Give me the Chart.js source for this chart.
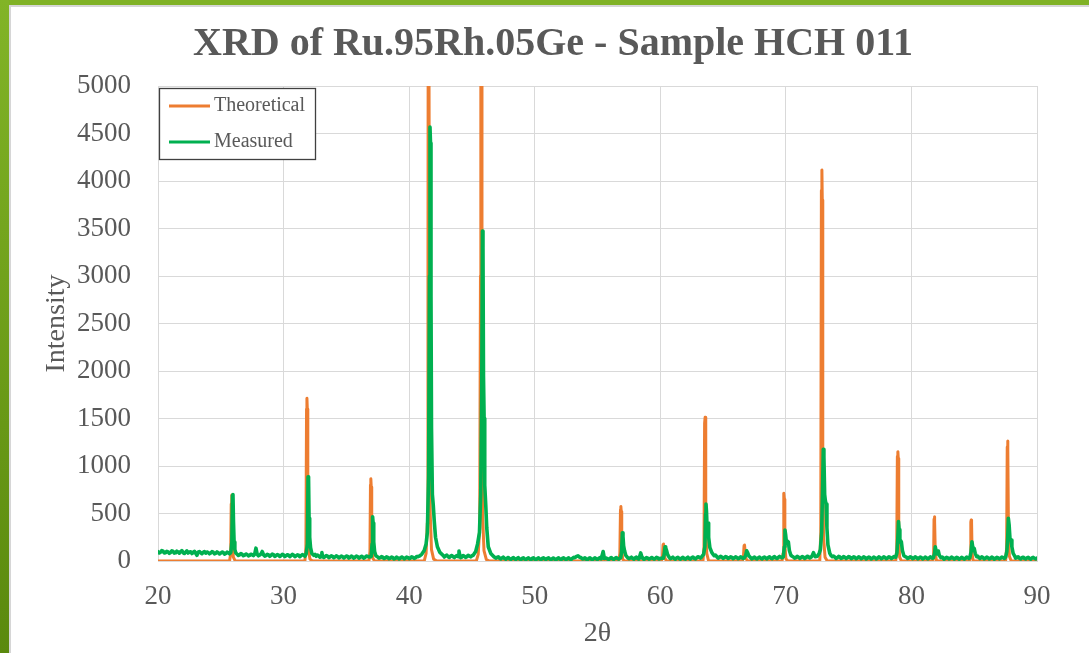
<!DOCTYPE html>
<html>
<head>
<meta charset="utf-8">
<script src="https://cdn.jsdelivr.net/npm/chart.js@4.4.1/dist/chart.umd.min.js"></script>
<style>
  html, body { margin: 0; padding: 0; background: #ffffff; }
  body { width: 1089px; height: 653px; position: relative; overflow: hidden; }
  #topBar { position: absolute; left: 0; top: 0; width: 1089px; height: 5px; background: #80b226; }
  #topLine { position: absolute; left: 9px; top: 5px; width: 1080px; height: 2px; background: #d6d6d6; }
  #leftBar { position: absolute; left: 0; top: 0; width: 9px; height: 653px; background: linear-gradient(#82b427, #5a890d); }
  #leftLine { position: absolute; left: 9px; top: 5px; width: 2px; height: 648px; background: #d6d6d6; }
  #chart { position: absolute; left: 0; top: 0; }
</style>
</head>
<body>
<div id="topBar"></div>
<div id="topLine"></div>
<div id="leftBar"></div>
<div id="leftLine"></div>
<canvas id="chart" width="1089" height="653"></canvas>
<script>
// XRD pattern, values: [2theta, intensity]

const chartTitle = 'XRD of Ru.95Rh.05Ge - Sample HCH 011';
const seriesNames = ['Theoretical', 'Measured'];
const xTicks = [20, 30, 40, 50, 60, 70, 80, 90];
const yTicks = [0, 500, 1000, 1500, 2000, 2500, 3000, 3500, 4000, 4500, 5000];

const theoretical = [
  [20, 0], [25.7, 0], [25.79, 80], [25.83, 600], [25.86, 695], [25.89, 640], [25.93, 200], [26.0, 40], [26.15, 0],
  [31.7, 0], [31.78, 150], [31.83, 1600], [31.86, 1712], [31.89, 1600], [31.93, 500], [31.98, 120], [32.1, 20], [32.3, 0],
  [36.8, 0], [36.88, 100], [36.92, 800], [36.95, 865], [36.98, 780], [37.02, 200], [37.1, 30], [37.25, 0],
  [41.2, 0], [41.35, 80], [41.45, 400], [41.5, 3000], [41.53, 8000], [41.58, 8000], [41.62, 3000], [41.68, 500], [41.78, 120], [41.95, 20], [42.2, 0],
  [45.35, 0], [45.5, 70], [45.62, 350], [45.68, 3000], [45.71, 8000], [45.76, 8000], [45.8, 3000], [45.86, 450], [45.96, 110], [46.15, 15], [46.4, 0],
  [56.7, 0], [56.78, 80], [56.83, 540], [56.86, 575], [56.89, 520], [56.93, 150], [57.0, 20], [57.15, 0],
  [60.1, 0], [60.18, 60], [60.22, 170], [60.26, 178], [60.3, 120], [60.36, 30], [60.5, 0],
  [63.4, 0], [63.48, 150], [63.53, 1450], [63.57, 1512], [63.6, 1400], [63.64, 400], [63.7, 80], [63.85, 0],
  [66.55, 0], [66.63, 60], [66.67, 160], [66.71, 168], [66.75, 110], [66.82, 25], [66.95, 0],
  [69.7, 0], [69.78, 80], [69.82, 680], [69.85, 712], [69.88, 650], [69.92, 180], [70.0, 25], [70.15, 0],
  [72.7, 0], [72.78, 300], [72.83, 3900], [72.87, 4116], [72.9, 3800], [72.94, 1100], [73.0, 250], [73.12, 40], [73.3, 0],
  [78.75, 0], [78.83, 120], [78.88, 1100], [78.92, 1151], [78.95, 1080], [78.99, 250], [79.06, 40], [79.2, 0],
  [81.7, 0], [81.77, 60], [81.8, 440], [81.83, 465], [81.86, 420], [81.9, 90], [81.98, 10], [82.1, 0],
  [84.62, 0], [84.7, 50], [84.73, 410], [84.76, 432], [84.79, 400], [84.83, 80], [84.92, 0],
  [87.5, 0], [87.58, 140], [87.63, 1200], [87.66, 1262], [87.69, 1180], [87.73, 280], [87.8, 50], [87.95, 0],
  [90, 0]
];

const measured = [
  [20.0, 98], [20.1, 84], [20.2, 92], [20.3, 110], [20.4, 104], [20.5, 85], [20.6, 88], [20.7, 102], [20.8, 96], [20.9, 80],
  [21.0, 90], [21.1, 108], [21.2, 101], [21.3, 83], [21.4, 86], [21.5, 104], [21.6, 95], [21.7, 82], [21.8, 99], [21.9, 110],
  [22.0, 88], [22.1, 79], [22.2, 94], [22.3, 106], [22.4, 84], [22.5, 92], [22.6, 97], [22.7, 78], [22.8, 90], [22.9, 102],
  [23.0, 81], [23.1, 60], [23.2, 93], [23.3, 100], [23.4, 86], [23.5, 77], [23.6, 91], [23.7, 99], [23.8, 82], [23.9, 95],
  [24.0, 89], [24.1, 76], [24.2, 84], [24.3, 98], [24.4, 92], [24.5, 75], [24.6, 80], [24.7, 96], [24.8, 87], [24.9, 74],
  [25.0, 83], [25.1, 94], [25.2, 90], [25.3, 72], [25.4, 79], [25.5, 93], [25.6, 86], [25.7, 76],
  [25.8, 90], [25.88, 200], [25.93, 690], [25.97, 700], [26.01, 420], [26.06, 200], [26.12, 120], [26.2, 85],
  [26.3, 72], [26.4, 58], [26.5, 65], [26.6, 78], [26.7, 70], [26.8, 55], [26.9, 62], [27.0, 74], [27.1, 68], [27.2, 54],
  [27.3, 60], [27.4, 71], [27.5, 66], [27.6, 56], [27.7, 72], [27.8, 135], [27.9, 70], [28.0, 55],
  [28.1, 63], [28.2, 74], [28.3, 100], [28.4, 66], [28.5, 52], [28.6, 58], [28.7, 70], [28.8, 64], [28.9, 50], [29.0, 60],
  [29.1, 72], [29.2, 67], [29.3, 49], [29.4, 56], [29.5, 68], [29.6, 62], [29.7, 48], [29.8, 58], [29.9, 70],
  [30.0, 64], [30.1, 47], [30.2, 55], [30.3, 66], [30.4, 61], [30.5, 46], [30.6, 57], [30.7, 69], [30.8, 63], [30.9, 47],
  [31.0, 54], [31.1, 65], [31.2, 60], [31.3, 45], [31.4, 56], [31.5, 67], [31.6, 62], [31.7, 50],
  [31.8, 75], [31.9, 180], [31.95, 887], [31.99, 860], [32.03, 450], [32.08, 250], [32.15, 140], [32.25, 80],
  [32.4, 60], [32.5, 70], [32.6, 50], [32.7, 62], [32.8, 55], [32.9, 40], [33.0, 47], [33.05, 88], [33.1, 52], [33.2, 38],
  [33.3, 46], [33.4, 58], [33.5, 51], [33.6, 36], [33.7, 43], [33.8, 55], [33.9, 49], [34.0, 35],
  [34.1, 42], [34.2, 54], [34.3, 47], [34.4, 33], [34.5, 40], [34.6, 52], [34.7, 46], [34.8, 32], [34.9, 41], [35.0, 53],
  [35.1, 48], [35.2, 31], [35.3, 39], [35.4, 51], [35.5, 44], [35.6, 30], [35.7, 40], [35.8, 52], [35.9, 46], [36.0, 31],
  [36.1, 38], [36.2, 50], [36.3, 44], [36.4, 30], [36.5, 40], [36.6, 53], [36.7, 47], [36.85, 42],
  [36.98, 50], [37.05, 180], [37.09, 466], [37.13, 400], [37.18, 200], [37.25, 100], [37.35, 55],
  [37.5, 42], [37.6, 30], [37.7, 35], [37.8, 46], [37.9, 40], [38.0, 26], [38.1, 32], [38.2, 44], [38.3, 38], [38.4, 24],
  [38.5, 30], [38.6, 42], [38.7, 35], [38.8, 22], [38.9, 28], [39.0, 40], [39.1, 34], [39.2, 22], [39.3, 30], [39.4, 42],
  [39.5, 36], [39.6, 23], [39.7, 29], [39.8, 41], [39.9, 35], [40.0, 24], [40.1, 31], [40.2, 44], [40.3, 38], [40.4, 27],
  [40.5, 33], [40.6, 48], [40.7, 45], [40.85, 55],
  [41.0, 70], [41.2, 110], [41.35, 180], [41.45, 300], [41.55, 900], [41.62, 3000], [41.66, 4568], [41.7, 4400],
  [41.74, 2800], [41.78, 1400], [41.85, 700], [41.92, 590], [42.0, 420], [42.1, 250], [42.25, 150], [42.45, 90], [42.7, 60],
  [42.8, 42], [42.9, 55], [43.0, 62], [43.1, 46], [43.2, 38], [43.3, 52], [43.4, 58], [43.5, 44], [43.6, 36], [43.7, 50],
  [43.8, 57], [43.9, 45], [43.97, 105], [44.05, 48], [44.1, 36], [44.2, 42], [44.3, 58], [44.4, 50], [44.5, 38], [44.6, 45],
  [44.7, 60], [44.8, 52], [44.9, 44], [45.0, 55],
  [45.1, 60], [45.3, 100], [45.45, 180], [45.6, 300], [45.7, 700], [45.78, 1800], [45.84, 3474], [45.88, 3300],
  [45.92, 1950], [45.97, 1500], [46.02, 800], [46.1, 590], [46.18, 350], [46.3, 150], [46.5, 80], [46.75, 45],
  [46.9, 30], [47.0, 38], [47.1, 44], [47.2, 30], [47.3, 22], [47.4, 34], [47.5, 40], [47.6, 26], [47.7, 18], [47.8, 31],
  [47.9, 37], [48.0, 24], [48.1, 16], [48.2, 29], [48.3, 36], [48.4, 23], [48.5, 15], [48.6, 28], [48.7, 35], [48.8, 22],
  [48.9, 14], [49.0, 27], [49.1, 34], [49.2, 21], [49.3, 14], [49.4, 26], [49.5, 33], [49.6, 22], [49.7, 13], [49.8, 27],
  [49.9, 34], [50.0, 20], [50.1, 13], [50.2, 26], [50.3, 33], [50.4, 21], [50.5, 14], [50.6, 27], [50.7, 34], [50.8, 22],
  [50.9, 15], [51.0, 28], [51.1, 34], [51.2, 21], [51.3, 13], [51.4, 26], [51.5, 32], [51.6, 20], [51.7, 13], [51.8, 25],
  [51.9, 33], [52.0, 21], [52.1, 14], [52.2, 27], [52.3, 34], [52.4, 22], [52.5, 15], [52.6, 26], [52.7, 33], [52.8, 21],
  [52.9, 16], [53.0, 28], [53.1, 38], [53.2, 35], [53.3, 45], [53.45, 55], [53.55, 42], [53.7, 34], [53.8, 22], [53.9, 25],
  [54.0, 33], [54.1, 20], [54.2, 14], [54.3, 27], [54.4, 34], [54.5, 21], [54.6, 15], [54.7, 26], [54.8, 33], [54.9, 22],
  [55.0, 16], [55.1, 28], [55.2, 35], [55.3, 23], [55.45, 100], [55.55, 26], [55.65, 34], [55.8, 22], [55.9, 16], [56.0, 28],
  [56.1, 36], [56.2, 23], [56.3, 17], [56.4, 29], [56.5, 37], [56.6, 25], [56.7, 20],
  [56.85, 35], [56.92, 100], [56.98, 298], [57.03, 260], [57.08, 160], [57.15, 110], [57.25, 60], [57.4, 35],
  [57.5, 24], [57.6, 32], [57.7, 40], [57.8, 27], [57.9, 20], [58.0, 33], [58.1, 40], [58.2, 26], [58.3, 20], [58.44, 85],
  [58.55, 36], [58.6, 28], [58.7, 18], [58.8, 24], [58.9, 36], [59.0, 30], [59.1, 19], [59.2, 25], [59.3, 37], [59.4, 31],
  [59.5, 20], [59.6, 26], [59.7, 38], [59.8, 32], [59.9, 21], [60.0, 27], [60.15, 30],
  [60.25, 30], [60.32, 80], [60.38, 150], [60.43, 140], [60.5, 110], [60.58, 70], [60.7, 40],
  [60.8, 24], [60.9, 32], [61.0, 40], [61.1, 27], [61.2, 19], [61.3, 33], [61.4, 39], [61.5, 26], [61.6, 18], [61.7, 31],
  [61.8, 38], [61.9, 25], [62.0, 19], [62.1, 32], [62.2, 40], [62.3, 27], [62.4, 20], [62.5, 34], [62.6, 42], [62.7, 28],
  [62.8, 22], [62.9, 35], [63.0, 44], [63.1, 40], [63.2, 30],
  [63.3, 45], [63.45, 70], [63.55, 150], [63.61, 500], [63.64, 600], [63.68, 520], [63.74, 300], [63.8, 400], [63.85, 250],
  [63.95, 140], [64.1, 90], [64.2, 70], [64.3, 55],
  [64.4, 62], [64.5, 45], [64.6, 30], [64.7, 38], [64.8, 50], [64.9, 42], [65.0, 28], [65.1, 35], [65.2, 47], [65.3, 40],
  [65.4, 26], [65.5, 33], [65.6, 45], [65.7, 38], [65.8, 25], [65.9, 32], [66.0, 44], [66.1, 37], [66.2, 24], [66.3, 31],
  [66.4, 43], [66.5, 36], [66.6, 26],
  [66.7, 35], [66.8, 60], [66.88, 108], [66.95, 90], [67.05, 55], [67.2, 35],
  [67.3, 22], [67.4, 33], [67.5, 40], [67.6, 28], [67.7, 21], [67.8, 34], [67.9, 41], [68.0, 29], [68.1, 22], [68.2, 35],
  [68.3, 42], [68.4, 30], [68.5, 23], [68.6, 36], [68.7, 44], [68.8, 31], [68.9, 24], [69.0, 38], [69.1, 46], [69.2, 32],
  [69.3, 26], [69.4, 37], [69.5, 48], [69.6, 40], [69.7, 34],
  [69.8, 45], [69.88, 150], [69.93, 326], [69.98, 280], [70.05, 190], [70.12, 210], [70.2, 200], [70.28, 110], [70.4, 60],
  [70.5, 50], [70.6, 42], [70.7, 30], [70.8, 36], [70.9, 48], [71.0, 41], [71.1, 28], [71.2, 35], [71.3, 47], [71.4, 40],
  [71.5, 27], [71.6, 34], [71.7, 50], [71.8, 45], [71.9, 32], [72.0, 40], [72.1, 55], [72.2, 88], [72.3, 52], [72.35, 45],
  [72.5, 50], [72.65, 80], [72.75, 120], [72.85, 300], [72.93, 800], [72.98, 1176], [73.03, 1100], [73.09, 700],
  [73.14, 640], [73.2, 600], [73.27, 350], [73.35, 170], [73.5, 80], [73.6, 58], [73.7, 45],
  [73.8, 52], [73.9, 40], [74.0, 28], [74.1, 35], [74.2, 48], [74.3, 42], [74.4, 27], [74.5, 33], [74.6, 46], [74.7, 39],
  [74.8, 26], [74.9, 34], [75.0, 47], [75.1, 40], [75.2, 25], [75.3, 33], [75.4, 45], [75.5, 38], [75.6, 24], [75.7, 32],
  [75.8, 44], [75.9, 37], [76.0, 23], [76.1, 31], [76.2, 43], [76.3, 36], [76.4, 22], [76.5, 30], [76.6, 42], [76.7, 35],
  [76.8, 21], [76.9, 29], [77.0, 41], [77.1, 34], [77.2, 22], [77.3, 30], [77.4, 43], [77.5, 36], [77.6, 23], [77.7, 31],
  [77.8, 44], [77.9, 37], [78.0, 24], [78.1, 32], [78.2, 45], [78.3, 38], [78.4, 26], [78.5, 35], [78.6, 46],
  [78.75, 40], [78.85, 90], [78.92, 250], [78.97, 414], [79.02, 330], [79.08, 200], [79.14, 214], [79.2, 200], [79.28, 110], [79.4, 55],
  [79.5, 46], [79.6, 40], [79.7, 27], [79.8, 33], [79.9, 45], [80.0, 38], [80.1, 25], [80.2, 31], [80.3, 43], [80.4, 36],
  [80.5, 23], [80.6, 30], [80.7, 42], [80.8, 35], [80.9, 22], [81.0, 29], [81.1, 41], [81.2, 34], [81.3, 23], [81.4, 30],
  [81.5, 43], [81.6, 36], [81.68, 28],
  [81.75, 35], [81.84, 80], [81.9, 150], [81.96, 110], [82.05, 75], [82.14, 105], [82.22, 60], [82.35, 35],
  [82.45, 40], [82.5, 32], [82.6, 20], [82.7, 27], [82.8, 39], [82.9, 33], [83.0, 21], [83.1, 28], [83.2, 40], [83.3, 34],
  [83.4, 20], [83.5, 27], [83.6, 39], [83.7, 32], [83.8, 19], [83.9, 26], [84.0, 38], [84.1, 31], [84.2, 20], [84.3, 28],
  [84.4, 40], [84.5, 33], [84.58, 26],
  [84.65, 35], [84.74, 90], [84.82, 203], [84.88, 150], [84.95, 110], [85.0, 133], [85.08, 80], [85.2, 45],
  [85.3, 50], [85.35, 38], [85.45, 26], [85.5, 31], [85.6, 43], [85.7, 36], [85.8, 22], [85.9, 29], [86.0, 41], [86.1, 34],
  [86.2, 21], [86.3, 28], [86.4, 40], [86.5, 33], [86.6, 20], [86.7, 27], [86.8, 39], [86.9, 32], [87.0, 22], [87.1, 29],
  [87.2, 42], [87.3, 35], [87.4, 28],
  [87.5, 40], [87.6, 100], [87.67, 250], [87.72, 449], [87.78, 380], [87.85, 230], [87.93, 221], [88.0, 150], [88.1, 80], [88.25, 45],
  [88.3, 30], [88.4, 36], [88.5, 44], [88.6, 30], [88.7, 22], [88.8, 35], [88.9, 40], [89.0, 28], [89.1, 21], [89.2, 33],
  [89.3, 39], [89.4, 27], [89.5, 20], [89.6, 32], [89.7, 38], [89.8, 28], [89.9, 22], [90.0, 31]
];

const serif = '"Liberation Serif", "Times New Roman", serif';
const grey = '#595959';

function toPoints(rows) {
  return rows.map(r => ({ x: r[0], y: r[1] }));
}

// legend box sitting inside the plot, top left
const insetLegend = {
  id: 'insetLegend',
  afterDatasetsDraw(chart) {
    const ctx = chart.ctx;
    const area = chart.chartArea;
    const x0 = area.left + 1, y0 = area.top + 2, w = 157, h = 72;
    ctx.save();
    ctx.fillStyle = '#ffffff';
    ctx.fillRect(x0, y0, w, h);
    ctx.strokeStyle = '#404040';
    ctx.lineWidth = 1.3;
    ctx.strokeRect(x0 + 0.5, y0 + 0.5, w - 1, h - 1);
    ctx.font = '20px ' + serif;
    ctx.textBaseline = 'middle';
    const order = [1, 0];
    order.forEach((di, i) => {
      const ds = chart.data.datasets[di];
      const y = y0 + 18 + i * 36;
      ctx.strokeStyle = ds.borderColor;
      ctx.lineWidth = 3;
      ctx.beginPath();
      ctx.moveTo(x0 + 10, y);
      ctx.lineTo(x0 + 51, y);
      ctx.stroke();
      ctx.fillStyle = grey;
      ctx.fillText(ds.label, x0 + 55, y);
    });
    ctx.restore();
  }
};

const ctx = document.getElementById('chart').getContext('2d');
const myChart = new Chart(ctx, {
  type: 'line',
  data: {
    datasets: [
      {
        label: seriesNames[1],
        data: toPoints(measured),
        borderColor: '#00b050',
        borderWidth: 3.6,
        borderJoinStyle: 'round',
        borderCapStyle: 'round',
        pointRadius: 0,
        tension: 0
      },
      {
        label: seriesNames[0],
        data: toPoints(theoretical),
        borderColor: '#ed7d31',
        borderWidth: 3,
        borderJoinStyle: 'round',
        borderCapStyle: 'round',
        pointRadius: 0,
        tension: 0
      }
    ]
  },
  plugins: [insetLegend],
  options: {
    responsive: false,
    animation: false,
    layout: { padding: { left: 69, right: 52, top: 0, bottom: 0 } },
    plugins: {
      legend: { display: false },
      tooltip: { enabled: false },
      title: {
        display: true,
        text: chartTitle,
        color: grey,
        font: { family: serif, size: 40, weight: 'bold' },
        padding: { top: 21, bottom: 17 }
      }
    },
    scales: {
      x: {
        type: 'linear',
        min: xTicks[0],
        max: xTicks[xTicks.length - 1],
        afterBuildTicks: scale => { scale.ticks = xTicks.map(v => ({ value: v })); },
        afterFit: scale => { scale.height = 92; },
        grid: { color: '#d9d9d9', drawTicks: false },
        border: { color: '#d9d9d9' },
        ticks: { color: grey, font: { family: serif, size: 27 }, padding: 20, maxRotation: 0, callback: v => String(v) },
        title: { display: true, text: '2θ', color: grey, font: { family: serif, size: 28 }, padding: { top: 0, bottom: 3 } }
      },
      y: {
        min: yTicks[0],
        max: yTicks[yTicks.length - 1],
        afterBuildTicks: scale => { scale.ticks = yTicks.map(v => ({ value: v })); },
        afterFit: scale => { scale.width = 89; },
        grid: { color: '#d9d9d9', drawTicks: false },
        border: { color: '#d9d9d9' },
        ticks: { color: grey, font: { family: serif, size: 27 }, padding: 27, callback: v => String(v) },
        title: { display: true, text: 'Intensity', color: grey, font: { family: serif, size: 28 }, padding: { top: -29, bottom: 0 } }
      }
    }
  }
});
</script>
</body>
</html>
